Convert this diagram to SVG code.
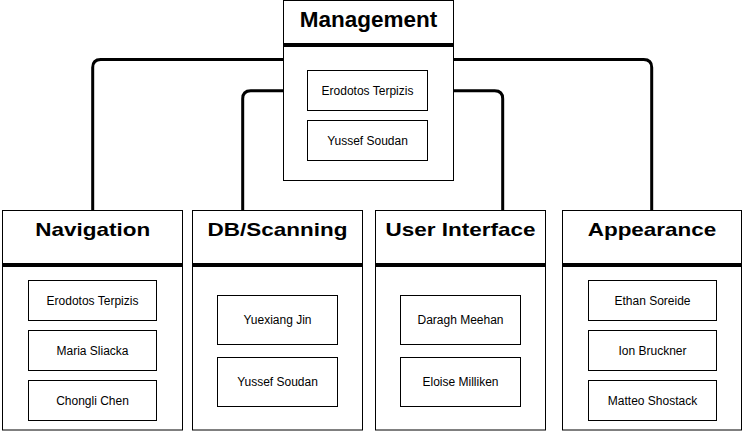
<svg xmlns="http://www.w3.org/2000/svg" width="746" height="431" viewBox="0 0 746 431">
<style>
.box{fill:#fff;stroke:#000;stroke-width:1}
.sep{stroke:#000;stroke-width:4}
.mem{fill:#fff;stroke:#000;stroke-width:1}
.title{font-family:"Liberation Sans",Arial,sans-serif;font-weight:bold;font-size:22.5px;text-anchor:middle;fill:#000}
.name{font-family:"Liberation Sans",Arial,sans-serif;font-size:12px;text-anchor:middle;fill:#000}
.conn{fill:none;stroke:#000;stroke-width:3;stroke-linejoin:round}
</style>
<rect width="746" height="431" fill="#fff"/>
<g id="connectors">
<path class="conn" d="M283 59.5 H100.7 Q92.7 59.5 92.7 67.5 V210"/>
<path class="conn" d="M283 90.7 H250.7 Q242.7 90.7 242.7 98.7 V210"/>
<path class="conn" d="M453 90.7 H494.7 Q502.7 90.7 502.7 98.7 V210"/>
<path class="conn" d="M453 59.5 H643.7 Q651.7 59.5 651.7 67.5 V210"/>
</g>
<g id="management">
<rect class="box" x="283.5" y="0.5" width="170" height="180"/>
<line class="sep" x1="283.5" y1="45" x2="453.5" y2="45"/>
<text class="title" x="368.5" y="27">Management</text>
<rect class="mem" x="307.5" y="70.5" width="120" height="40"/>
<text class="name" x="367.5" y="94.5">Erodotos Terpizis</text>
<rect class="mem" x="307.5" y="120.5" width="120" height="40"/>
<text class="name" x="367.5" y="144.5">Yussef Soudan</text>
</g>
<g id="navigation">
<rect class="box" x="2.5" y="210.5" width="180" height="219.5"/>
<line class="sep" x1="2.5" y1="265" x2="182.5" y2="265"/>
<text class="title" transform="translate(92.7,235.5) scale(1,0.78)">Navigation</text>
<rect class="mem" x="28.5" y="280.5" width="128" height="40"/>
<text class="name" x="92.5" y="304.5">Erodotos Terpizis</text>
<rect class="mem" x="28.5" y="330.5" width="128" height="40"/>
<text class="name" x="92.5" y="354.5">Maria Sliacka</text>
<rect class="mem" x="28.5" y="380.5" width="128" height="40"/>
<text class="name" x="92.5" y="404.5">Chongli Chen</text>
</g>
<g id="dbscanning">
<rect class="box" x="192.5" y="210.5" width="170" height="219.5"/>
<line class="sep" x1="192.5" y1="265" x2="362.5" y2="265"/>
<text class="title" transform="translate(277.5,235.5) scale(1,0.78)">DB/Scanning</text>
<rect class="mem" x="217.5" y="295.5" width="120" height="49"/>
<text class="name" x="277.5" y="324">Yuexiang Jin</text>
<rect class="mem" x="217.5" y="357.5" width="120" height="49"/>
<text class="name" x="277.5" y="386">Yussef Soudan</text>
</g>
<g id="userinterface">
<rect class="box" x="375.5" y="210.5" width="170" height="219.5"/>
<line class="sep" x1="375.5" y1="265" x2="545.5" y2="265"/>
<text class="title" transform="translate(460.5,235.5) scale(1,0.78)">User Interface</text>
<rect class="mem" x="400.5" y="295.5" width="120" height="49"/>
<text class="name" x="460.5" y="324">Daragh Meehan</text>
<rect class="mem" x="400.5" y="357.5" width="120" height="49"/>
<text class="name" x="460.5" y="386">Eloise Milliken</text>
</g>
<g id="appearance">
<rect class="box" x="562.5" y="210.5" width="179" height="219.5"/>
<line class="sep" x1="562.5" y1="265" x2="741.5" y2="265"/>
<text class="title" transform="translate(652,235.5) scale(1,0.78)">Appearance</text>
<rect class="mem" x="588.5" y="280.5" width="128" height="40"/>
<text class="name" x="652.5" y="304.5">Ethan Soreide</text>
<rect class="mem" x="588.5" y="330.5" width="128" height="40"/>
<text class="name" x="652.5" y="354.5">Ion Bruckner</text>
<rect class="mem" x="588.5" y="380.5" width="128" height="40"/>
<text class="name" x="652.5" y="404.5">Matteo Shostack</text>
</g>
</svg>
